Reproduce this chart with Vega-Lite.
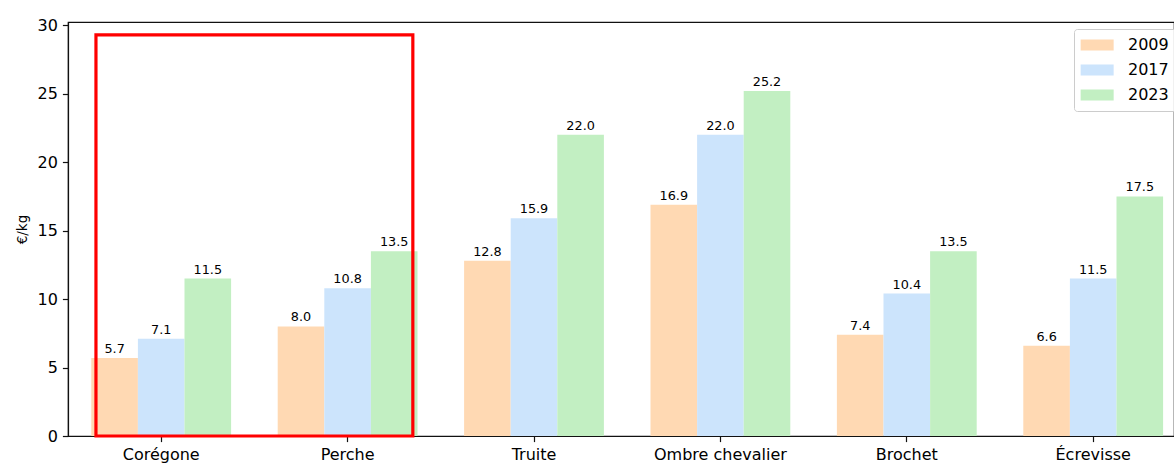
{
  "$schema": "https://vega.github.io/schema/vega-lite/v6.json",
  "autosize": {"type": "none"},
  "padding": {"left": 68, "top": 22, "right": 0, "bottom": 28},
  "width": 1106,
  "height": 414,
  "config": {
    "font": "DejaVu Sans",
    "view": {"stroke": "#111", "strokeWidth": 1.2},
    "axis": {
      "grid": false,
      "domainColor": "#111",
      "domainWidth": 1.2,
      "tickColor": "#111",
      "tickWidth": 1.2,
      "tickSize": 5.6,
      "labelColor": "#000",
      "labelFont": "DejaVu Sans",
      "labelFontSize": 16,
      "labelPadding": 5,
      "titleColor": "#000",
      "titleFont": "DejaVu Sans",
      "titleFontWeight": "normal"
    }
  },
  "datasets": {
    "prices": [
      {"fish": "Corégone", "year": "2009", "value": 5.7},
      {"fish": "Corégone", "year": "2017", "value": 7.1},
      {"fish": "Corégone", "year": "2023", "value": 11.5},
      {"fish": "Perche", "year": "2009", "value": 8.0},
      {"fish": "Perche", "year": "2017", "value": 10.8},
      {"fish": "Perche", "year": "2023", "value": 13.5},
      {"fish": "Truite", "year": "2009", "value": 12.8},
      {"fish": "Truite", "year": "2017", "value": 15.9},
      {"fish": "Truite", "year": "2023", "value": 22.0},
      {"fish": "Ombre chevalier", "year": "2009", "value": 16.9},
      {"fish": "Ombre chevalier", "year": "2017", "value": 22.0},
      {"fish": "Ombre chevalier", "year": "2023", "value": 25.2},
      {"fish": "Brochet", "year": "2009", "value": 7.4},
      {"fish": "Brochet", "year": "2017", "value": 10.4},
      {"fish": "Brochet", "year": "2023", "value": 13.5},
      {"fish": "Écrevisse", "year": "2009", "value": 6.6},
      {"fish": "Écrevisse", "year": "2017", "value": 11.5},
      {"fish": "Écrevisse", "year": "2023", "value": 17.5}
    ],
    "highlight": [
      {"fish": "Corégone", "fish2": "Perche", "top": 29.3, "bottom": 0}
    ]
  },
  "layer": [
    {
      "data": {"name": "prices"},
      "mark": {"type": "bar"},
      "encoding": {
        "x": {
          "field": "fish",
          "type": "nominal",
          "title": null,
          "scale": {
            "domain": ["Corégone", "Perche", "Truite", "Ombre chevalier", "Brochet", "Écrevisse"],
            "range": [0, 1118.4],
            "paddingInner": 0,
            "paddingOuter": 0
          },
          "axis": {"labelAngle": 0}
        },
        "xOffset": {
          "field": "year",
          "type": "nominal",
          "scale": {"paddingInner": 0, "paddingOuter": 0.5}
        },
        "y": {
          "field": "value",
          "type": "quantitative",
          "title": "€/kg",
          "scale": {"domain": [0, 30.24], "nice": false, "zero": true},
          "axis": {"values": [0, 5, 10, 15, 20, 25, 30], "titleFontSize": 13.5, "titlePadding": 8}
        },
        "color": {
          "field": "year",
          "type": "nominal",
          "scale": {"domain": ["2009", "2017", "2023"], "range": ["#ffd9b3", "#cce4fc", "#c2efc2"]},
          "legend": {
            "title": null,
            "orient": "none",
            "legendX": 1006,
            "legendY": 7,
            "direction": "vertical",
            "symbolType": "M-1.7,-1h6v2h-6z",
            "symbolSize": 121,
            "symbolStrokeWidth": 0,
            "symbolOpacity": 1,
            "labelFont": "DejaVu Sans",
            "labelFontSize": 16,
            "labelColor": "#000",
            "labelOffset": 30,
            "rowPadding": 9,
            "padding": 8,
            "strokeColor": "#cccccc",
            "fillColor": "rgba(255,255,255,0.8)",
            "cornerRadius": 3
          }
        }
      }
    },
    {
      "data": {"name": "prices"},
      "mark": {"type": "text", "baseline": "alphabetic", "align": "center", "dy": -5, "fontSize": 12.8, "font": "DejaVu Sans", "color": "#000"},
      "encoding": {
        "x": {"field": "fish", "type": "nominal"},
        "xOffset": {"field": "year", "type": "nominal"},
        "y": {"field": "value", "type": "quantitative"},
        "text": {"field": "value", "type": "quantitative", "format": ".1f"}
      }
    },
    {
      "data": {"name": "highlight"},
      "mark": {"type": "rect", "fill": null, "fillOpacity": 0, "stroke": "#ff0000", "strokeWidth": 3.2},
      "encoding": {
        "x": {"field": "fish", "type": "nominal", "bandPosition": 0.15},
        "x2": {"field": "fish2", "bandPosition": 0.85},
        "y": {"field": "top", "type": "quantitative"},
        "y2": {"field": "bottom"}
      }
    }
  ]
}
